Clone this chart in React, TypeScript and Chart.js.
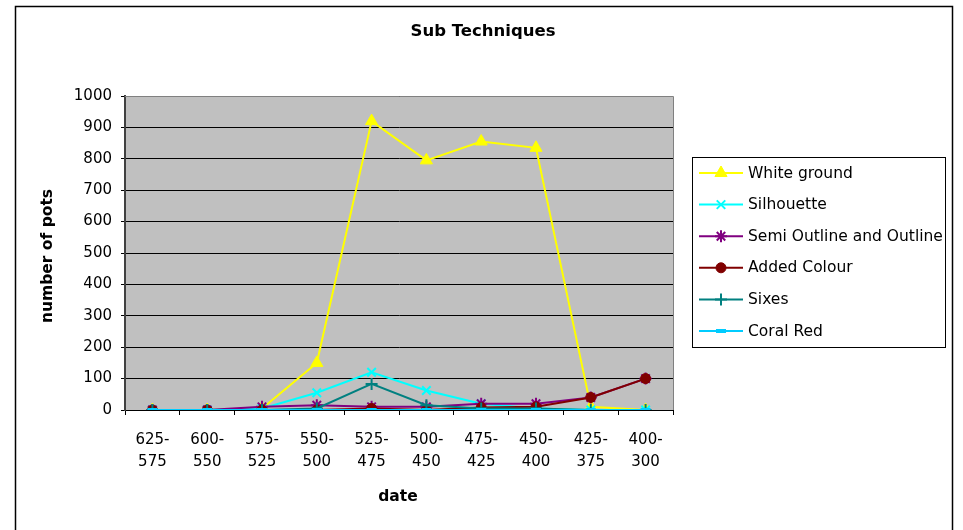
import { useEffect, useRef } from 'react';
import { Chart, registerables } from 'chart.js';
import { drawPoint } from 'chart.js/helpers';

Chart.register(...registerables);

const chartTitle = 'Sub Techniques';
const xAxisTitle = 'date';
const yAxisTitle = 'number of pots';
const categories = [
  ['625-', '575'], ['600-', '550'], ['575-', '525'], ['550-', '500'], ['525-', '475'],
  ['500-', '450'], ['475-', '425'], ['450-', '400'], ['425-', '375'], ['400-', '300'],
];
const whiteGround = [0, 0, 5, 150, 920, 795, 855, 835, 10, 0];
const silhouette = [0, 0, 5, 55, 120, 62, 20, 5, 0, 0];
const semiOutline = [0, 0, 10, 15, 10, 10, 20, 20, 40, 100];
const addedColour = [0, 0, 0, 0, 5, 0, 8, 10, 40, 100];
const sixes = [0, 0, 0, 5, 83, 15, 5, 5, 0, 0];
const coralRed = [0, 0, 0, 0, 0, 0, 0, 0, 0, 0];
const yMin = 0;
const yMax = 1000;
const yStep = 100;

const FONT = "'DejaVu Sans', sans-serif";

type Series = { name: string; data: number[]; color: string; style: any; radius: number; bw: number };
const series: Series[] = [
  { name: 'White ground', data: whiteGround, color: '#FFFF00', style: 'triangle', radius: 7, bw: 1 },
  { name: 'Silhouette', data: silhouette, color: '#00FFFF', style: 'crossRot', radius: 6, bw: 2 },
  { name: 'Semi Outline and Outline', data: semiOutline, color: '#800080', style: 'star', radius: 6, bw: 2 },
  { name: 'Added Colour', data: addedColour, color: '#800000', style: 'circle', radius: 5, bw: 1 },
  { name: 'Sixes', data: sixes, color: '#008080', style: 'cross', radius: 6, bw: 2 },
  { name: 'Coral Red', data: coralRed, color: '#00CCFF', style: 'line', radius: 5, bw: 4 },
];

const decorPlugin = {
  id: 'decor',
  beforeDraw(chart: any) {
    const { ctx, chartArea: a } = chart;
    ctx.save();
    ctx.fillStyle = '#ffffff';
    ctx.fillRect(0, 0, chart.width, chart.height);
    ctx.fillStyle = '#C0C0C0';
    ctx.fillRect(a.left, a.top, a.right - a.left, a.bottom - a.top);
    ctx.restore();
  },
  beforeDatasetsDraw(chart: any) {
    const { ctx, chartArea: a } = chart;
    ctx.save();
    ctx.strokeStyle = '#808080';
    ctx.lineWidth = 1;
    ctx.beginPath();
    ctx.moveTo(a.left, a.top + 0.5);
    ctx.lineTo(a.right + 0.5, a.top + 0.5);
    ctx.lineTo(a.right + 0.5, a.bottom);
    ctx.stroke();
    ctx.restore();
  },
  afterDraw(chart: any) {
    const { ctx, chartArea: a } = chart;
    ctx.save();
    // outer frame
    ctx.strokeStyle = '#000000';
    ctx.lineWidth = 1.5;
    ctx.strokeRect(15.5, 6.5, 937, 540);
    ctx.fillStyle = '#000000';
    ctx.textAlign = 'center';
    ctx.textBaseline = 'middle';
    ctx.font = `bold 16.5px ${FONT}`;
    ctx.fillText(chartTitle, 483, 32);
    ctx.font = `bold 15.5px ${FONT}`;
    ctx.fillText(xAxisTitle, (a.left + a.right) / 2 - 1, 497);
    ctx.save();
    ctx.translate(48, 256);
    ctx.rotate(-Math.PI / 2);
    ctx.fillText(yAxisTitle, 0, 0);
    ctx.restore();
    // legend
    const lx = 692, ly = 157, lw = 253, lh = 190;
    ctx.fillStyle = '#ffffff';
    ctx.fillRect(lx, ly, lw, lh);
    ctx.strokeStyle = '#000000';
    ctx.lineWidth = 1;
    ctx.strokeRect(lx + 0.5, ly + 0.5, lw, lh);
    ctx.textAlign = 'left';
    ctx.font = `15.5px ${FONT}`;
    series.forEach((s, i) => {
      const y = 173 + i * 31.6;
      ctx.strokeStyle = s.color;
      ctx.lineWidth = 2;
      ctx.beginPath();
      ctx.moveTo(699, y);
      ctx.lineTo(743, y);
      ctx.stroke();
      ctx.fillStyle = s.color;
      ctx.strokeStyle = s.color;
      ctx.lineWidth = s.bw;
      drawPoint(ctx, { pointStyle: s.style, radius: s.radius, borderWidth: s.bw, rotation: 0 } as any, 721, y);
      ctx.fillStyle = '#000000';
      ctx.fillText(s.name, 748, y + 0.5);
    });
    ctx.restore();
  },
};

export default function App() {
  const ref = useRef<HTMLCanvasElement | null>(null);
  useEffect(() => {
    if (!ref.current) return;
    const chart = new Chart(ref.current, {
      type: 'line',
      data: {
        labels: categories as any,
        datasets: series.map((s, i) => ({
          label: s.name,
          data: s.data,
          borderColor: s.color,
          backgroundColor: s.color,
          pointBackgroundColor: s.color,
          pointBorderColor: s.color,
          pointStyle: s.style,
          pointRadius: s.radius,
          pointBorderWidth: s.bw,
          borderWidth: 2,
          tension: 0,
          fill: false,
          order: series.length - i,
        })),
      },
      options: {
        responsive: false,
        animation: false,
        events: [],
        layout: { padding: { left: 0, right: 290, top: 96, bottom: 0 } },
        plugins: { legend: { display: false }, title: { display: false }, tooltip: { enabled: false } },
        scales: {
          x: {
            type: 'category',
            offset: true,
            afterFit: (s: any) => { s.height = 120; },
            grid: { display: true, drawOnChartArea: false, drawTicks: true, tickLength: 5, color: '#000000', offset: true },
            border: { display: true, color: '#000000', width: 1 },
            ticks: {
              color: '#000000',
              font: { family: FONT, size: 15, lineHeight: 1.45 },
              padding: 14,
              maxRotation: 0,
              autoSkip: false,
            },
          },
          y: {
            min: yMin,
            max: yMax,
            afterFit: (s: any) => { s.width = 125; },
            grid: { color: '#000000', lineWidth: 1, tickLength: 4, drawTicks: true },
            border: { display: true, color: '#404040', width: 2 },
            ticks: {
              stepSize: yStep,
              color: '#000000',
              font: { family: FONT, size: 15 },
              padding: 9,
              callback: (v: any) => String(v),
            },
          },
        },
      },
      plugins: [decorPlugin],
    });
    return () => chart.destroy();
  }, []);
  return (
    <div style={{ position: 'fixed', left: 0, top: 0, width: 963, height: 530 }}>
      <canvas ref={ref} width={963} height={530} style={{ display: 'block', width: 963, height: 530 }} />
    </div>
  );
}
